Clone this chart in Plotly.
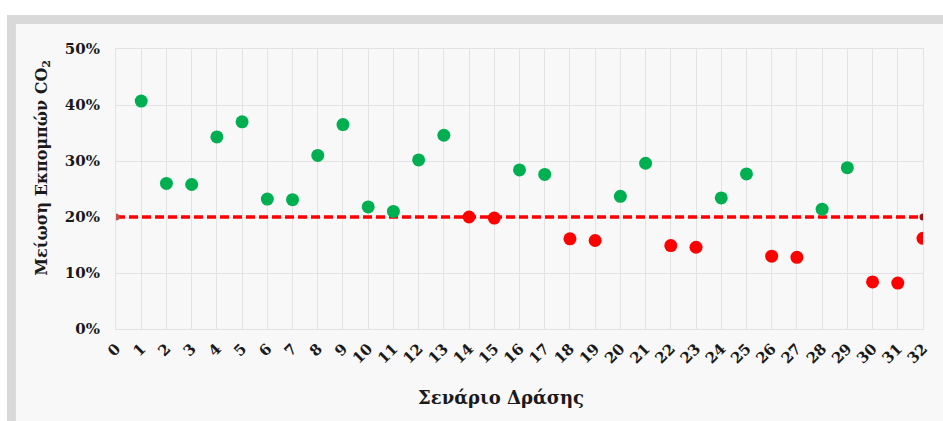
import plotly.graph_objects as go

# Scenario numbers and CO2 emission reduction (%) per action scenario
scenarios = list(range(1, 33))
reduction = [40.7, 26.0, 25.8, 34.3, 37.0, 23.2, 23.1, 31.0, 36.5, 21.8,
             21.0, 30.2, 34.6, 20.0, 19.8, 28.4, 27.6, 16.1, 15.8, 23.7,
             29.6, 14.9, 14.6, 23.4, 27.7, 13.0, 12.8, 21.4, 28.8, 8.4,
             8.2, 16.2]

# Target reduction threshold
target_x = [0, 32]
target_y = [20, 20]
target_colors = ["#c0504d", "#a01010"]

x_ticks = list(range(0, 33))
y_ticks = [0, 10, 20, 30, 40, 50]
y_tick_text = [f"{v}%" for v in y_ticks]

x_title = "Σενάριο Δράσης"
y_title = "Μείωση Εκπομπών CO<sub>2</sub>"

GREEN = "#00b050"
RED = "#ff0000"
point_colors = [GREEN if v > target_y[0] else RED for v in reduction]
# Scenario 14 sits right on the threshold and is shown as not meeting it
point_colors[13] = RED

FONT = "DejaVu Serif"
TXT = "#1a1a1a"

fig = go.Figure()

fig.add_trace(go.Scatter(
    x=target_x, y=target_y, mode="lines+markers",
    line=dict(color=RED, width=3.5, dash="9px,4px"),
    marker=dict(size=7, color=target_colors),
    hoverinfo="skip", showlegend=False,
))

fig.add_trace(go.Scatter(
    x=scenarios, y=reduction, mode="markers",
    marker=dict(size=13, color=point_colors),
    showlegend=False,
))

# Panel frame behind the chart (pixel positions converted to paper units)
W, H = 943, 421
ml, mr, mt, mb = 116, 13, 49, 92
pw, ph = W - ml - mr, H - mt - mb


def px(x):
    return (x - ml) / pw


def py(y):
    return (H - mb - y) / ph


fig.add_shape(type="rect", xref="paper", yref="paper", layer="below",
              x0=px(6), x1=px(960), y0=py(15), y1=py(440),
              fillcolor="#d9d9d9", line=dict(width=0))
fig.add_shape(type="rect", xref="paper", yref="paper", layer="below",
              x0=px(15), x1=px(960), y0=py(24), y1=py(440),
              fillcolor="#f8f8f8", line=dict(width=0))

# Axis titles
fig.add_annotation(text=f"<b>{x_title}</b>", xref="paper", yref="paper",
                   x=px(504), y=py(397), xanchor="center", yanchor="middle",
                   showarrow=False, font=dict(family=FONT, size=18, color=TXT))
fig.add_annotation(text=f"<b>{y_title}</b>", xref="paper", yref="paper",
                   x=px(41), y=py(168), xanchor="center", yanchor="middle",
                   textangle=-90, showarrow=False,
                   font=dict(family=FONT, size=16, color=TXT))

fig.update_layout(
    width=W, height=H,
    margin=dict(l=ml, r=mr, t=mt, b=mb),
    paper_bgcolor="white",
    plot_bgcolor="#fdfdfd",
    font=dict(family=FONT, color=TXT),
)

fig.update_xaxes(
    range=[0, 32], tickmode="array", tickvals=x_ticks,
    ticktext=[str(v) for v in x_ticks], tickangle=-45,
    tickfont=dict(family=FONT, size=15, color=TXT, weight="bold"),
    showgrid=True, gridcolor="#e3e3e3", gridwidth=1,
    showline=True, linecolor="#e3e3e3", mirror=True, zeroline=False,
    ticks="outside", ticklen=4, tickcolor="rgba(0,0,0,0)",
)

fig.update_yaxes(
    range=[0, 50], tickmode="array", tickvals=y_ticks, ticktext=y_tick_text,
    tickfont=dict(family=FONT, size=15, color=TXT, weight="bold"),
    showgrid=True, gridcolor="#e3e3e3", gridwidth=1,
    showline=True, linecolor="#e3e3e3", mirror=True, zeroline=False,
    ticks="outside", ticklen=12, tickcolor="rgba(0,0,0,0)",
)

fig.write_html("out.html")
